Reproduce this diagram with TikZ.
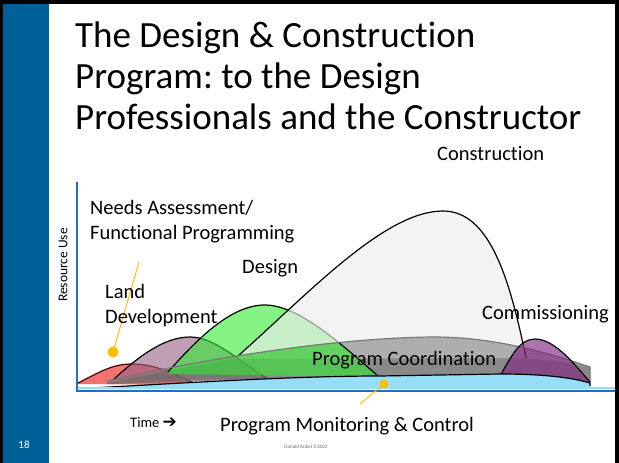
\documentclass[tikz,border=0pt]{standalone}
\usepackage{fontspec}
\setmainfont{Carlito}[Ligatures=CommonOff]
\newfontfamily\symfont{DejaVu Sans}
\usetikzlibrary{calc}
\frenchspacing
\definecolor{barblue}{RGB}{0,97,152}
\definecolor{axisblue}{RGB}{30,110,210}
\definecolor{landred}{RGB}{240,80,80}
\definecolor{devmauve}{RGB}{150,95,130}
\definecolor{designgreen}{RGB}{50,235,50}
\definecolor{buildgray}{RGB}{238,238,238}
\definecolor{coordgray}{RGB}{120,120,120}
\definecolor{commpurple}{RGB}{130,40,130}
\definecolor{monitorblue}{RGB}{150,222,247}
\definecolor{pointer}{RGB}{255,190,0}

\tikzset{
  hump/.style={draw=black, line width=1.2pt, line join=round},
  lbl/.style={anchor=base west, inner sep=0pt, font=\fontsize{20.5}{24.5}\selectfont},
  titleline/.style={anchor=base west, inner sep=0pt, font=\fontsize{37}{41}\selectfont},
  pointerline/.style={draw=pointer, line width=1pt}
}

\begin{document}
\begin{tikzpicture}[x=1pt, y=-1pt]
\useasboundingbox (0,0) rectangle (619,463);
\fill[black] (0,0) rectangle (619,463);
\fill[white] (3,4) rectangle (615,463);
\fill[barblue] (3,4) rectangle (49,463);
\node[text=white, font=\fontsize{11}{13}\selectfont] (slideno) at (24,445) {18};

\node[titleline] (titlea) at (75,47) {The Design \& Construction};
\node[titleline] (titleb) at (75,88) {Program: to the Design};
\node[titleline] (titlec) at (75,129) {Professionals and the Constructor};

%land development
\fill[landred, fill opacity=0.8] (76,384) .. controls (100,372) and (112,364) .. (132,364)
  .. controls (155,364) and (175,374) .. (198,385) -- cycle;
\draw[hump, draw=black!70!red] (76,384) .. controls (100,372) and (112,364) .. (132,364)
  .. controls (155,364) and (175,374) .. (198,385);
%needs assessment
\fill[devmauve, fill opacity=0.6] (113,380) .. controls (140,355) and (165,337) .. (190,337)
  .. controls (215,337) and (240,362) .. (268,379) -- cycle;
\draw[hump] (113,380) .. controls (140,355) and (165,337) .. (190,337)
  .. controls (215,337) and (240,362) .. (268,379);
%program coordination
\fill[coordgray, fill opacity=0.6] (107,381) .. controls (200,360) and (330,338) .. (433,337)
  .. controls (490,337) and (540,350) .. (590,367) -- (590,383)
  .. controls (570,377) and (540,374) .. (500,374) -- (380,376)
  .. controls (300,376) and (200,382) .. (107,384) -- cycle;
\fill[coordgray!80!black, fill opacity=0.45] (107,383) -- (230,359) -- (500,358)
  .. controls (540,358) and (570,362) .. (590,367) -- (590,383)
  .. controls (570,377) and (540,374) .. (500,374) -- (380,376)
  .. controls (300,376) and (200,382) .. (107,384) -- cycle;
%design
\fill[designgreen, fill opacity=0.6] (168,372) .. controls (200,336) and (232,305) .. (265,305)
  .. controls (300,305) and (345,348) .. (377,375) -- (377,377) -- (168,374) -- cycle;
\draw[hump] (168,372) .. controls (200,336) and (232,305) .. (265,305)
  .. controls (300,305) and (345,348) .. (377,375);
%construction
\fill[buildgray, fill opacity=0.65] (238,356) .. controls (310,292) and (385,211) .. (443,211)
  .. controls (490,211) and (508,275) .. (523,346)
  .. controls (490,338) and (460,337) .. (433,337)
  .. controls (360,337) and (290,347) .. cycle;
\draw[hump] (238,356) .. controls (310,292) and (385,211) .. (443,211)
  .. controls (490,211) and (510,280) .. (526,358);
\draw[coordgray, line width=1.2pt] (107,381) .. controls (200,360) and (330,338) .. (433,337)
  .. controls (490,337) and (540,350) .. (590,367) -- (590,383);
%commissioning
\fill[commpurple, fill opacity=0.65] (500,376) .. controls (512,355) and (520,339) .. (535,339)
  .. controls (555,339) and (575,365) .. (590,382) -- cycle;
\draw[hump] (500,376) .. controls (512,355) and (520,339) .. (535,339)
  .. controls (555,339) and (575,365) .. (590,382);
%program monitoring
\fill[monitorblue] (92,388) .. controls (200,382) and (300,376) .. (380,376) -- (500,374)
  .. controls (540,374) and (570,377) .. (590,383) -- (590,389) -- (92,389) -- cycle;
\draw[hump] (92,388) .. controls (200,382) and (300,376) .. (380,376) -- (500,374)
  .. controls (540,374) and (570,377) .. (590,383) -- (590,386);
\draw[monitorblue, line width=1.5pt] (77,388) -- (615,388);

%axes
\coordinate (origin) at (77,391);
\coordinate (ytop) at (77,182);
\coordinate (xend) at (615,391);
\draw[axisblue, line width=1.5pt] (ytop) -- (origin) -- (xend);

%pointers
\coordinate (needstip) at (139,262);
\coordinate (needsdot) at (113,352);
\draw[pointerline] (needstip) -- (needsdot);
\fill[pointer] (needsdot) circle (5.5);
\coordinate (monitortip) at (360,404);
\coordinate (monitordot) at (384,384);
\draw[pointerline] (monitortip) -- (monitordot);
\fill[pointer] (monitordot) circle (4.5);

%labels
\node[lbl] (construction) at (437,160) {Construction};
\node[lbl, align=left] (needs) at (90,239) {Needs Assessment/\\Functional Programming};
\node[lbl] (design) at (242,273) {Design};
\node[lbl, align=left] (land) at (105,323) {Land\\Development};
\node[lbl] (commissioning) at (482,319) {Commissioning};
\node[lbl] (coordination) at (312,365) {Program Coordination};
\node[rotate=90, font=\fontsize{13.5}{15}\selectfont] (resource) at (63,265) {Resource Use};
\node[anchor=base west, inner sep=0pt, font=\fontsize{14.5}{16}\selectfont] (time) at (130,427)
  {Time {\symfont\bfseries\fontsize{17}{18}\selectfont ➔}};
\node[lbl] (monitoring) at (220,431) {Program Monitoring \& Control};
\node[text=black!60, font=\fontsize{5}{6}\selectfont] (credit) at (306,447) {Donald Ardiel ©2023};
\end{tikzpicture}
\end{document}
